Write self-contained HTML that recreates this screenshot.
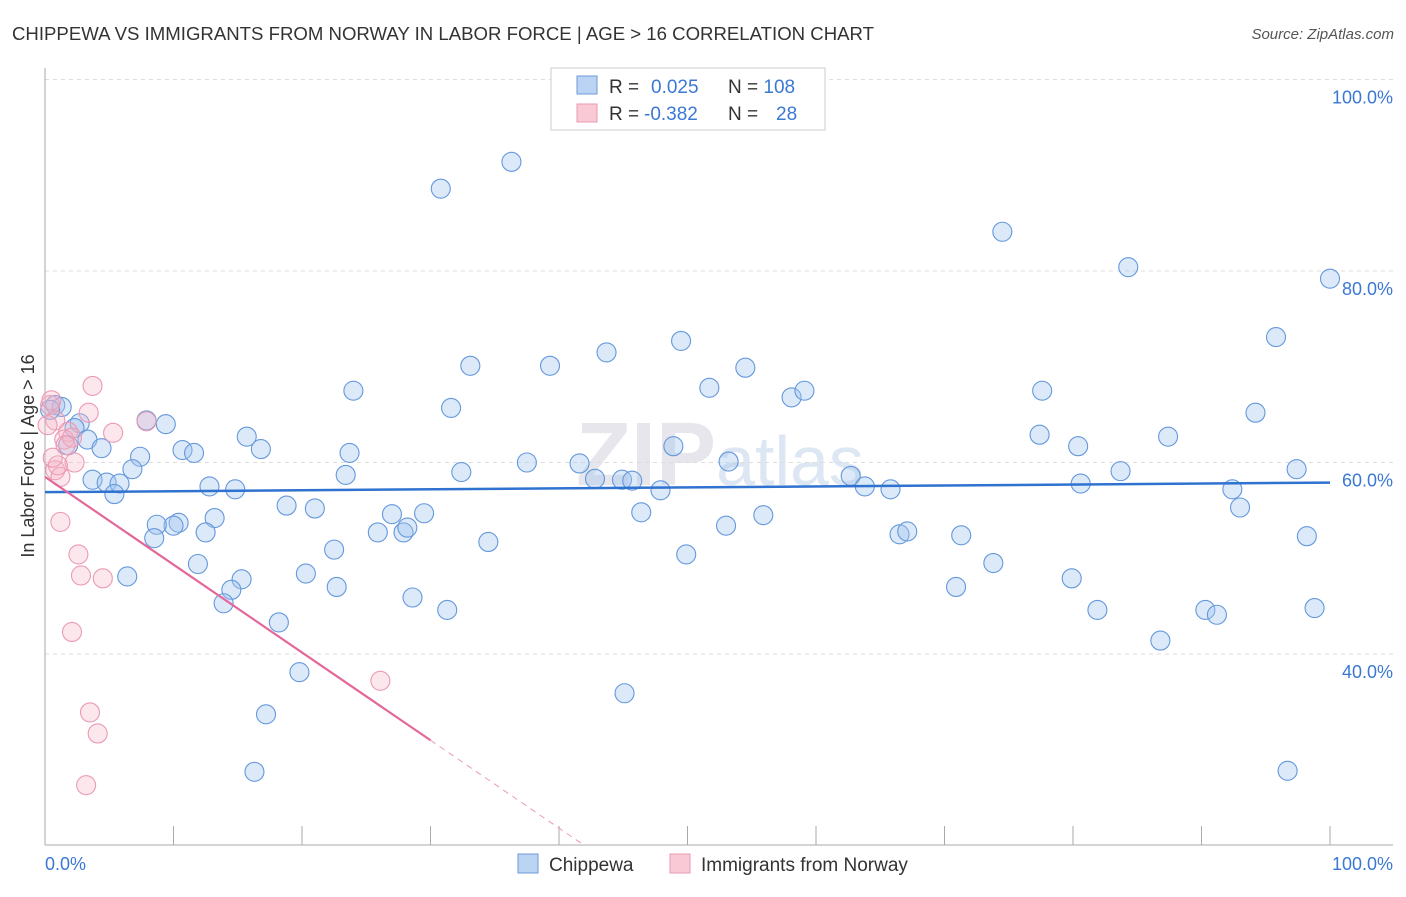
<!DOCTYPE html>
<html><head><meta charset="utf-8"><style>
body{margin:0;background:#fff;font-family:"Liberation Sans",sans-serif}
svg text{font-family:"Liberation Sans",sans-serif}
</style></head><body>
<svg width="1406" height="892">
<text x="12" y="40" font-size="18.5" fill="#333" textLength="862" lengthAdjust="spacingAndGlyphs">CHIPPEWA VS IMMIGRANTS FROM NORWAY IN LABOR FORCE | AGE &gt; 16 CORRELATION CHART</text>
<text x="1394" y="39" font-size="15" fill="#555" text-anchor="end" font-style="italic">Source: ZipAtlas.com</text>
<text x="720" y="485" font-size="90" fill="#e6e6ec" text-anchor="middle" font-family="Liberation Serif" font-weight="bold">ZIP<tspan fill="#dde6f3" font-family="Liberation Sans" font-weight="normal" font-size="70">atlas</tspan></text>
<g id="grid"></g><g id="axes"></g><g id="marks"></g>
<text transform="translate(34,456) rotate(-90)" font-size="18" fill="#333" text-anchor="middle">In Labor Force | Age &gt; 16</text>
<text x="45" y="870" font-size="18" fill="#3b78d4">0.0%</text>
<text x="1393" y="870" font-size="18" fill="#3b78d4" text-anchor="end">100.0%</text>
<g>
<rect x="551" y="68" width="274" height="62" fill="#fff" stroke="#ccc"/>
<rect x="577" y="76" width="20" height="18" fill="#bcd4f3" stroke="#6b9ad9"/>
<rect x="577" y="104" width="20" height="18" fill="#f9c9d6" stroke="#e89ab2"/>
<text x="609" y="93" font-size="19" fill="#333">R = <tspan fill="#3b78d4" x="651">0.025</tspan><tspan x="728">N = </tspan><tspan fill="#3b78d4">108</tspan></text>
<text x="609" y="120" font-size="19" fill="#333">R = <tspan fill="#3b78d4" x="644">-0.382</tspan><tspan x="728">N = </tspan><tspan fill="#3b78d4" x="776">28</tspan></text>
</g>
<g>
<rect x="518" y="854" width="20" height="19" fill="#bcd4f3" stroke="#6b9ad9"/>
<text x="549" y="871" font-size="19" fill="#333">Chippewa</text>
<rect x="670" y="854" width="20" height="19" fill="#f9c9d6" stroke="#e89ab2"/>
<text x="701" y="871" font-size="19" fill="#333">Immigrants from Norway</text>
</g>
</svg>
<script>
const yTicks=[40,60,80,100];
const yTickLabels=["40.0%","60.0%","80.0%","100.0%"];
const xTicks=[0,10,20,30,40,50,60,70,80,90,100];
const blueX=[0.8,1.3,0.4,2.7,2.3,3.3,1.8,4.4,7.4,6.8,3.7,4.8,5.8,5.4,6.4,7.9,9.4,10.7,11.6,12.8,14.8,15.7,16.8,13.2,12.5,10.4,10.0,8.7,8.5,11.9,15.3,14.5,13.9,18.2,18.8,21.0,20.3,22.5,22.7,19.8,17.2,16.3,24.0,23.7,23.4,27.0,25.9,27.9,28.2,29.5,28.6,31.3,31.6,30.8,36.3,33.1,32.4,34.5,37.5,39.3,41.6,42.8,43.7,44.9,45.7,46.4,47.9,48.9,49.9,49.5,51.7,53.0,53.2,54.5,55.9,58.1,59.1,62.7,63.8,65.8,66.5,67.1,70.9,71.3,73.8,74.5,77.4,77.6,79.9,80.4,80.6,81.9,83.7,84.3,86.8,87.4,90.3,91.2,92.4,93.0,94.2,95.8,97.4,98.2,98.8,96.7,100.0,45.1];
const blueY=[66.0,65.8,65.5,64.1,63.6,62.4,61.8,61.5,60.6,59.3,58.2,57.9,57.8,56.7,48.1,64.4,64.0,61.3,61.0,57.5,57.2,62.7,61.4,54.2,52.7,53.7,53.4,53.5,52.1,49.4,47.8,46.7,45.3,43.3,55.5,55.2,48.4,50.9,47.0,38.1,33.7,27.7,67.5,61.0,58.7,54.6,52.7,52.7,53.2,54.7,45.9,44.6,65.7,88.6,91.4,70.1,59.0,51.7,60.0,70.1,59.9,58.3,71.5,58.2,58.1,54.8,57.1,61.7,50.4,72.7,67.8,53.4,60.1,69.9,54.5,66.8,67.5,58.6,57.5,57.2,52.5,52.8,47.0,52.4,49.5,84.1,62.9,67.5,47.9,61.7,57.8,44.6,59.1,80.4,41.4,62.7,44.6,44.1,57.2,55.3,65.2,73.1,59.3,52.3,44.8,27.8,79.2,35.9];
const pinkX=[0.4,0.8,0.2,3.4,3.7,5.3,7.9,1.8,1.5,2.1,2.3,0.8,1.2,1.0,0.6,1.2,2.6,2.8,4.5,2.1,3.5,4.1,3.2,26.1,0.5,1.6];
const pinkY=[66.0,64.4,63.9,65.2,68.0,63.1,64.3,63.2,62.4,62.6,60.0,59.2,58.5,59.7,60.5,53.8,50.4,48.2,47.9,42.3,33.9,31.7,26.3,37.2,66.5,61.8];
const blueTrend=[56.9,57.9];
const pinkTrend=[58.5,-0.917];
const X=v=>45+v*12.85, Y=v=>79.5+(100-v)*9.575;
const NS="http://www.w3.org/2000/svg";
function mk(tag,attrs,parent){const e=document.createElementNS(NS,tag);for(const k in attrs)e.setAttribute(k,attrs[k]);parent.appendChild(e);return e;}
const grid=document.getElementById('grid'),axes=document.getElementById('axes'),marks=document.getElementById('marks');
yTicks.forEach((t,i)=>{
 const l=mk('line',{x1:45,x2:1393,y1:Y(t),y2:Y(t),stroke:'#ddd','stroke-dasharray':'4 4'},grid);
 
 
 const tx=mk('text',{x:1393,y:Y(t)+24,'font-size':18,fill:'#3b78d4','text-anchor':'end'},grid);
 tx.textContent=yTickLabels[i];
 
 
});
const ya=mk('line',{x1:45,x2:45,y1:68,y2:845,stroke:'#aaa'},axes);


const xa=mk('line',{x1:45,x2:1393,y1:845,y2:845,stroke:'#aaa'},axes);


xTicks.forEach(t=>{
 const l=mk('line',{x1:X(t),x2:X(t),y1:826,y2:845,stroke:'#aaa'},axes);
 
 
});
blueX.forEach((v,i)=>{
 const c=mk('circle',{cx:X(v),cy:Y(blueY[i]),r:9.5,fill:'rgba(160,196,240,0.38)',stroke:'#6598dc','stroke-width':1.1},marks);
 
 
});
pinkX.forEach((v,i)=>{
 const c=mk('circle',{cx:X(v),cy:Y(pinkY[i]),r:9.5,fill:'rgba(245,180,200,0.32)',stroke:'#eb9ab4','stroke-width':1.1},marks);
 
 
});
const bt=mk('line',{x1:X(0),y1:Y(blueTrend[0]),x2:X(100),y2:Y(blueTrend[1]),stroke:'#2f72d0','stroke-width':2.5},marks);


const pe=30, pz=(20-pinkTrend[0])/pinkTrend[1];
const pt=mk('line',{x1:X(0),y1:Y(pinkTrend[0]),x2:X(pe),y2:Y(pinkTrend[0]+pinkTrend[1]*pe),stroke:'#e4679a','stroke-width':2.2},marks);


const pd=mk('line',{x1:X(pe),y1:Y(pinkTrend[0]+pinkTrend[1]*pe),x2:X(pz),y2:Y(20),stroke:'#eb9ab4','stroke-width':1,'stroke-dasharray':'6 5'},marks);


</script>
</body></html>
